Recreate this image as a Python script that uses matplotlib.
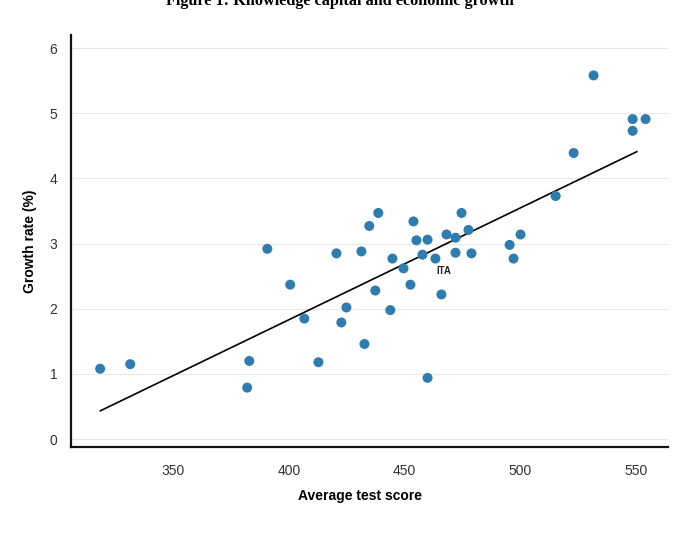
import numpy as np
import matplotlib
matplotlib.use("Agg")
import matplotlib.pyplot as plt

# average test score vs. growth rate
test_score = [318.4, 331.4, 382.0, 382.9, 390.7, 400.6, 406.7, 412.8, 420.6, 422.7,
              424.9, 431.4, 432.7, 434.8, 437.4, 438.7, 443.9, 444.8, 449.6, 452.6,
              453.9, 455.2, 457.8, 460.0, 460.0, 463.4, 466.0, 468.2, 472.1, 472.1,
              474.7, 477.7, 479.0, 495.5, 497.2, 500.2, 515.4, 523.2, 531.8, 548.7,
              548.7, 554.3]
growth_rate = [1.08, 1.15, 0.79, 1.20, 2.92, 2.37, 1.85, 1.18, 2.85, 1.79,
               2.02, 2.88, 1.46, 3.27, 2.28, 3.47, 1.98, 2.77, 2.62, 2.37,
               3.34, 3.05, 2.83, 3.06, 0.94, 2.77, 2.22, 3.14, 2.86, 3.09,
               3.47, 3.21, 2.85, 2.98, 2.77, 3.14, 3.73, 4.39, 5.58, 4.73,
               4.91, 4.91]

# fitted line end points
fit_x = [318.5, 550.5]
fit_y = [0.435, 4.41]

ita_score = 463.4
ita_growth = 2.77

xticks = [350, 400, 450, 500, 550]
yticks = [0, 1, 2, 3, 4, 5, 6]

plt.rcParams['font.family'] = ['Liberation Sans', 'DejaVu Sans']

fig = plt.figure(figsize=(6.79, 5.41), dpi=100)
ax = fig.add_axes([0.1046, 0.1738, 0.8792, 0.7615])

ax.scatter(test_score, growth_rate, s=52, color='#2f7db0', edgecolors='none', zorder=3)
ax.plot(fit_x, fit_y, color='black', linewidth=1.2, zorder=2)
ax.annotate('ITA', (ita_score, ita_growth), xytext=(1, -11), textcoords='offset points',
            fontsize=7, fontweight='bold', color='#222222')

ax.set_xlim(305.8, 564)
ax.set_ylim(-0.12, 6.2)
ax.set_xticks(xticks)
ax.set_yticks(yticks)
ax.tick_params(length=0, labelsize=10, labelcolor='#333333')
ax.tick_params(axis='x', pad=12)
ax.tick_params(axis='y', pad=10)
ax.grid(axis='y', color='#e8e8e8', linewidth=0.8)
ax.set_axisbelow(True)

for side in ['top', 'right']:
    ax.spines[side].set_visible(False)
for side in ['left', 'bottom']:
    ax.spines[side].set_linewidth(1.6)
    ax.spines[side].set_color('#111111')

ax.set_xlabel('Average test score', fontsize=10, fontweight='bold')
ax.set_ylabel('Growth rate (%)', fontsize=10, fontweight='bold')
ax.xaxis.set_label_coords(0.484, -0.102)
ax.yaxis.set_label_coords(-0.057, 0.5)

fig.text(0.5, 1 - 5 / 541, 'Figure 1: Knowledge capital and economic growth',
         ha='center', va='baseline', fontsize=11.7, fontweight='bold',
         family=['Liberation Serif', 'DejaVu Serif'])

fig.savefig('out.png', dpi=100)
